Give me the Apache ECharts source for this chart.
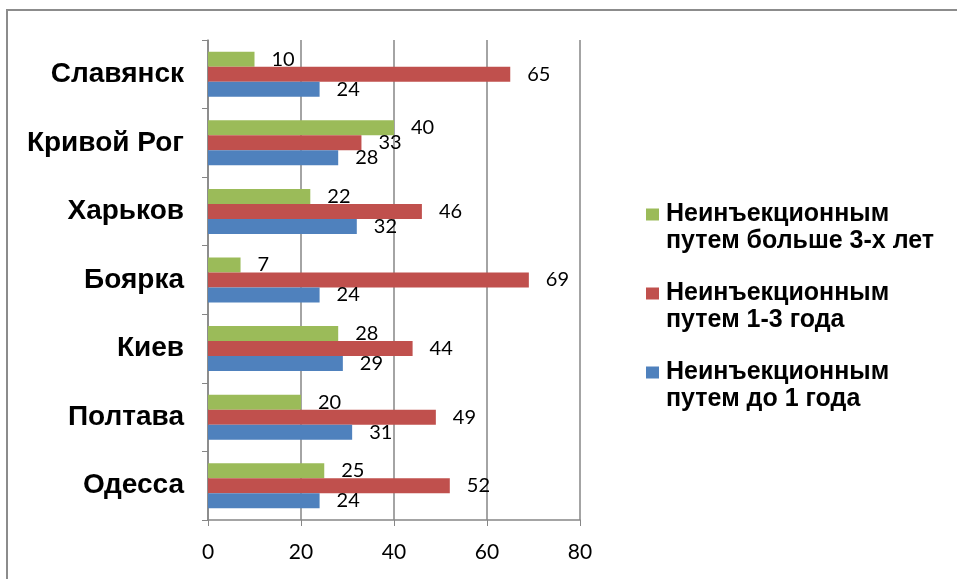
<!DOCTYPE html>
<html>
<head>
<meta charset="utf-8">
<script src="https://cdn.jsdelivr.net/npm/echarts@6/dist/echarts.min.js"></script>
<style>
  html, body { margin: 0; padding: 0; background: #fff; }
  #chart { width: 957px; height: 579px; }
</style>
</head>
<body>
<div id="chart"></div>
<script>
// Cities, bottom to top along the category axis
const cities = ['Одесса', 'Полтава', 'Киев', 'Боярка', 'Харьков', 'Кривой Рог', 'Славянск'];

// Percent values per city (same order as cities)
const upTo1Year = [24, 31, 29, 24, 32, 28, 24];
const from1To3Years = [52, 49, 44, 69, 46, 33, 65];
const over3Years = [25, 20, 28, 7, 22, 40, 10];

const seriesNames = [
  'Неинъекционным\nпутем до 1 года',
  'Неинъекционным\nпутем 1-3 года',
  'Неинъекционным\nпутем больше 3-х лет'
];
const seriesColors = ['#4F81BD', '#C0504D', '#9BBB59'];

const xTicks = { min: 0, max: 80, step: 20 };

const labelStyle = {
  show: true,
  position: 'right',
  distance: 17,
  color: '#000',
  fontFamily: 'Lato, "Open Sans", sans-serif',
  fontSize: 20
};

function makeSeries(name, values, color) {
  return {
    name: name,
    type: 'bar',
    data: values,
    barWidth: 15,
    barGap: '0%',
    itemStyle: { color: color },
    label: labelStyle,
    emphasis: { disabled: true }
  };
}

const chart = echarts.init(document.getElementById('chart'), null, { renderer: 'canvas' });
chart.setOption({
  animation: false,
  backgroundColor: '#fff',
  graphic: [{
    type: 'rect',
    shape: { x: 7, y: 10, width: 980, height: 600 },
    style: { fill: 'none', stroke: '#8c8c8c', lineWidth: 2 },
    silent: true,
    z: -10
  }],
  grid: { left: 208, right: 377, top: 40, bottom: 59, containLabel: false },
  legend: {
    orient: 'vertical',
    left: 641,
    top: 169,
    itemWidth: 13,
    itemHeight: 12,
    itemGap: -2,
    icon: 'rect',
    data: [seriesNames[2], seriesNames[1], seriesNames[0]],
    // a blank leading line keeps the swatch level with the first text line
    formatter: function (name) { return ' \n' + name; },
    textStyle: {
      color: '#000',
      fontFamily: '"Liberation Sans", Arial, sans-serif',
      fontWeight: 'bold',
      fontSize: 25,
      lineHeight: 27,
      padding: [0, 0, 0, 2]
    }
  },
  xAxis: {
    type: 'value',
    min: xTicks.min,
    max: xTicks.max,
    interval: xTicks.step,
    axisLine: { show: true, lineStyle: { color: '#868686', width: 1.5 } },
    axisTick: { show: true, length: 6, lineStyle: { color: '#868686' } },
    splitLine: { show: true, lineStyle: { color: '#868686', width: 1.5 } },
    axisLabel: {
      color: '#000',
      fontFamily: 'Lato, "Open Sans", sans-serif',
      fontSize: 21,
      margin: 22
    }
  },
  yAxis: {
    type: 'category',
    data: cities,
    axisLine: { show: true, lineStyle: { color: '#868686', width: 1.5 } },
    axisTick: { show: true, length: 6, lineStyle: { color: '#868686' } },
    axisLabel: {
      color: '#000',
      fontFamily: '"Liberation Sans", Arial, sans-serif',
      fontWeight: 'bold',
      fontSize: 28,
      margin: 24
    }
  },
  // first series sits at the top of each category band
  series: [
    makeSeries(seriesNames[2], over3Years, seriesColors[2]),
    makeSeries(seriesNames[1], from1To3Years, seriesColors[1]),
    makeSeries(seriesNames[0], upTo1Year, seriesColors[0])
  ]
});
</script>
</body>
</html>
